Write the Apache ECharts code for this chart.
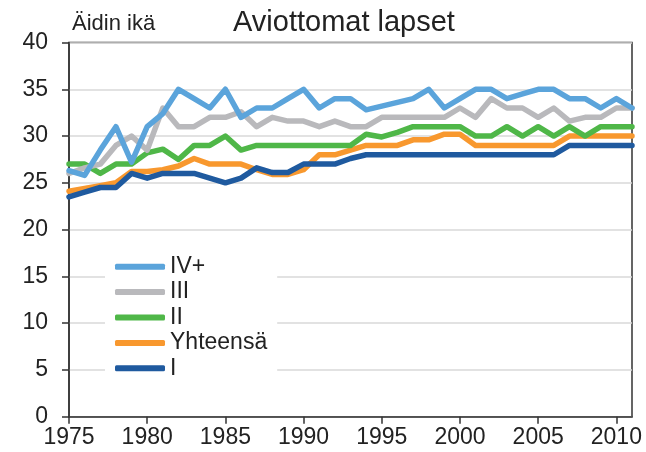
<!DOCTYPE html>
<html>
<head>
<meta charset="utf-8">
<script src="https://cdn.jsdelivr.net/npm/echarts@6/dist/echarts.min.js"></script>
<style>
html,body{margin:0;padding:0;background:#fff;}
#chart{width:646px;height:452px;}
</style>
</head>
<body>
<div id="chart"></div>
<script>
const years = [1975,1976,1977,1978,1979,1980,1981,1982,1983,1984,1985,1986,1987,1988,1989,1990,1991,1992,1993,1994,1995,1996,1997,1998,1999,2000,2001,2002,2003,2004,2005,2006,2007,2008,2009,2010,2011];
const ivPlus = [26.3,25.8,28.5,31,27.2,31,32.4,35,34,33, 35,32,33,33,34,35,33,34,34,32.8, 33.2,33.6,34,35,33,34,35,35,34,34.5, 35,35,34,34,33,34,33];
const iii    = [26,26.6,27,29,30,28.5,33,31,31,32, 32,32.6,31,32,31.6,31.6,31,31.6,31,31, 32,32,32,32,32,33,32,34,33,33, 32,33,31.6,32,32,33,33];
const ii     = [27,27,26,27,27,28.2,28.6,27.5,29,29, 30,28.5,29,29,29,29,29,29,29,30.2, 29.9,30.4,31,31,31,31,30,30,31,30, 31,30,31,30,31,31,31];
const total  = [24.1,24.4,24.7,25,26.2,26.2,26.4,26.8,27.6,27, 27,27,26.4,25.9,25.9,26.4,28,28,28.5,29, 29,29,29.6,29.6,30.2,30.2,29,29,29,29, 29,29,30,30,30,30,30];
const i1     = [23.5,24,24.5,24.5,26,25.5,26,26,26,25.5, 25,25.5,26.6,26.1,26.1,27,27,27,27.6,28, 28,28,28,28,28,28,28,28,28,28, 28,28,29,29,29,29,29];
const xTicks = [1975,1980,1985,1990,1995,2000,2005,2010];
const yTicks = [0,5,10,15,20,25,30,35,40];
const legendNames = ['IV+','III','II','Yhteensä','I'];

const FONT = "'Liberation Sans', Arial, sans-serif";
const pairs = arr => years.map((y, k) => [y, arr[k]]);

function line(name, arr, color) {
  return {
    name: name, type: 'line', data: pairs(arr), symbol: 'none', smooth: false,
    lineStyle: {color: color, width: 5.5, cap: 'round', join: 'round'},
    itemStyle: {color: color}
  };
}

const chart = echarts.init(document.getElementById('chart'), null, {renderer: 'canvas'});
chart.setOption({
  animation: false,
  textStyle: {fontFamily: FONT},
  title: [
    {text: 'Aviottomat lapset', left: 233, top: 8, padding: 0,
     textStyle: {fontSize: 29, fontWeight: 'normal', color: '#222', fontFamily: FONT, lineHeight: 29}},
    {text: 'Äidin ikä', left: 72, top: 13, padding: 0,
     textStyle: {fontSize: 22, fontWeight: 'normal', color: '#222', fontFamily: FONT, lineHeight: 22}}
  ],
  grid: {left: 69, right: 14, top: 42.5, bottom: 35.3, show: true, borderColor: '#333', borderWidth: 1.5, backgroundColor: 'transparent'},
  xAxis: {
    type: 'value', min: xTicks[0], max: 2011, interval: 5,
    axisLine: {show: true, lineStyle: {color: '#333', width: 1.5}},
    axisTick: {show: true, length: 7, inside: false, lineStyle: {color: '#333', width: 1.5}, customValues: xTicks},
    axisLabel: {margin: 9, fontSize: 23, color: '#222', fontFamily: FONT, customValues: xTicks,
                formatter: v => String(v)},
    splitLine: {show: false}
  },
  yAxis: {
    type: 'value', min: yTicks[0], max: yTicks[yTicks.length - 1], interval: 5,
    axisLine: {show: true, lineStyle: {color: '#333', width: 1.5}},
    axisTick: {show: true, length: 7, inside: false, lineStyle: {color: '#333', width: 1.5}},
    axisLabel: {margin: 21, fontSize: 23, color: '#222', fontFamily: FONT},
    splitLine: {show: true, lineStyle: {color: '#d9d9d9', width: 1.5}}
  },
  legend: {
    data: legendNames, orient: 'vertical', left: 105, top: 248.7,
    padding: [6, 10, 6, 10], backgroundColor: '#fff',
    itemWidth: 50, itemHeight: 6, itemGap: 1.4, icon: 'roundRect',
    textStyle: {fontSize: 23, lineHeight: 24, color: '#222', fontFamily: FONT}
  },
  series: [
    line('Yhteensä', total, '#F8982E'),
    line('I', i1, '#1F5A9F'),
    line('II', ii, '#4FB748'),
    line('III', iii, '#B9B9BC'),
    line('IV+', ivPlus, '#5BA4DB')
  ]
});
</script>
</body>
</html>
